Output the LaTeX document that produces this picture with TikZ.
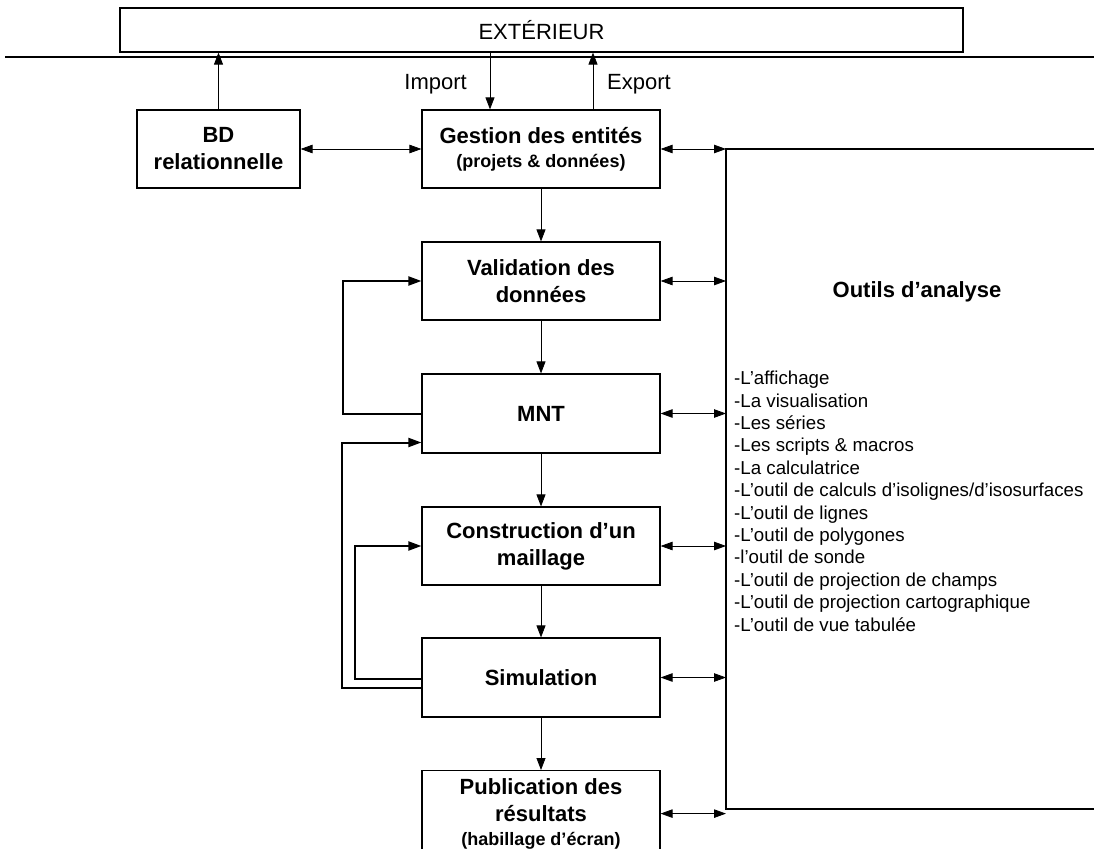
\documentclass[tikz,border=0pt]{standalone}
\usepackage{fontspec}
\setmainfont{Liberation Sans}
\usetikzlibrary{arrows.meta}

\begin{document}
\begin{tikzpicture}[x=1pt,y=-1pt,
  box/.style={draw, line width=1.2pt, rectangle, minimum width=238pt,
              align=center, inner sep=0pt},
  ttl/.style={font=\fontsize{22}{27}\selectfont\bfseries},
  lab/.style={font=\fontsize{22}{25}\selectfont, inner sep=0pt},
  flow/.style={line width=0.8pt, -{Triangle[length=12pt,width=9pt]}},
  both/.style={line width=0.8pt,
               {Triangle[length=12pt,width=8.5pt]}-{Triangle[length=12pt,width=8.5pt]}},
  fb/.style={line width=2pt, -{Triangle[length=13pt,width=9pt]}},
]
\useasboundingbox (0,0) rectangle (1094,848);
\clip (0,0) rectangle (1094,848);

% outside world and separating line
\node[box, minimum width=843pt, minimum height=44pt,
      font=\fontsize{22}{25}\selectfont] (ext) at (541.5,30) {EXTÉRIEUR};
\draw[line width=1.2pt] (5,57) -- (1100,57);

% processing chain
\node[box, ttl, minimum width=163pt, minimum height=78pt] (bd) at (218.5,149)
  {BD\\relationnelle};
\node[box, minimum height=78pt, font=\fontsize{22}{24}\selectfont\bfseries] (gest) at (541,149)
  {Gestion des entités\\{\fontsize{18}{24}\selectfont (projets \& données)}};
\node[box, ttl, minimum height=78pt] (val) at (541,281) {Validation des\\données};
\node[box, ttl, minimum height=79pt] (mnt) at (541,413.5) {MNT};
\node[box, ttl, minimum height=78pt] (con) at (541,546) {Construction d’un\\maillage};
\node[box, ttl, minimum height=79pt] (sim) at (541,677.5) {Simulation};
\node[box, minimum height=86pt, anchor=north, font=\fontsize{22}{27}\selectfont\bfseries]
  (pub) at (541,770)
  {Publication des\\résultats\\[-3pt]{\fontsize{18}{24}\selectfont (habillage d’écran)}};

% exchanges with the outside
\coordinate (impB) at ([xshift=-51pt]gest.north);
\coordinate (expB) at ([xshift=52pt]gest.north);
\draw[flow] (bd.north) -- (bd.north |- ext.south);
\draw[flow] (impB |- ext.south) -- (impB);
\draw[flow] (expB) -- (expB |- ext.south);
\node[lab, anchor=east] (limp) at (467,84) {Import};
\node[lab, anchor=west] (lexp) at (607,84) {Export};

% main flow
\draw[both] (bd.east) -- (gest.west);
\draw[flow] (gest.south) -- (val.north);
\draw[flow] (val.south) -- (mnt.north);
\draw[flow] (mnt.south) -- (con.north);
\draw[flow] (con.south) -- (sim.north);
\draw[flow] (sim.south) -- (pub.north);

% feedback loops
\draw[fb] (mnt.west) -- ++(-78,0) |- (val.west);
\draw[fb] ([yshift=-10pt]sim.west) -- ++(-79,0) |- ([yshift=-29pt]mnt.west);
\draw[fb] ([yshift=-1pt]sim.west) -- ++(-66,0) |- (con.west);

% analysis tools panel
\coordinate (otop) at (726,149);
\coordinate (obot) at (726,809);
\draw[line width=1.2pt] (1100,149) -- (otop) -- (obot) -- (1100,809);
\node[font=\fontsize{22}{26}\selectfont\bfseries] (otitle) at (917,292) {Outils d’analyse};
\node[anchor=north west, align=left, inner sep=0pt,
      font=\fontsize{18.7}{22.4}\selectfont] (olist) at (734,371)
  {-L’affichage\\
   -La visualisation\\
   -Les séries\\
   -Les scripts \& macros\\
   -La calculatrice\\
   -L’outil de calculs d’isolignes/d’isosurfaces\\
   -L’outil de lignes\\
   -L’outil de polygones\\
   -l’outil de sonde\\
   -L’outil de projection de champs\\
   -L’outil de projection cartographique\\
   -L’outil de vue tabulée};

\draw[both] (gest.east) -- (otop);
\draw[both] (val.east) -- (val.east -| otop);
\draw[both] (mnt.east) -- (mnt.east -| otop);
\draw[both] (con.east) -- (con.east -| otop);
\draw[both] (sim.east) -- (sim.east -| otop);
\draw[both] (pub.east) -- (pub.east -| otop);
\end{tikzpicture}
\end{document}
